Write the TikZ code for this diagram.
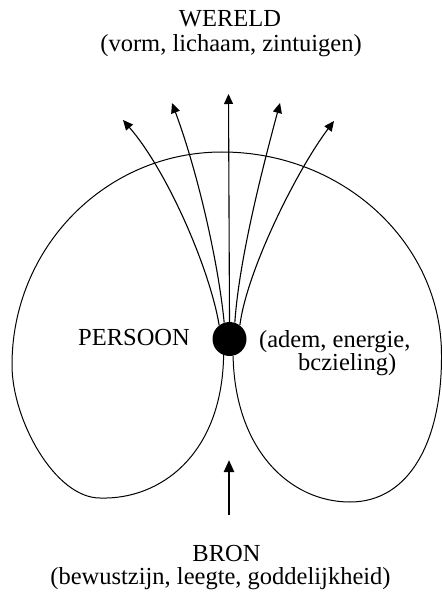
\documentclass[tikz,border=0pt]{standalone}
\usepackage{fontspec}
\setmainfont{Liberation Serif}
\usetikzlibrary{arrows.meta}
\begin{document}
\begin{tikzpicture}[x=1pt,y=-1pt,
  lbl/.style={inner sep=0pt,font=\fontsize{24.5}{26}\selectfont},
  flow/.style={line width=1.1pt,-{Triangle[length=10pt,width=9pt]}},
  outline/.style={line width=1pt}]
\useasboundingbox (0,0) rectangle (441,593);
% texts
\node[lbl,anchor=base] (w1) at (230,26.7) {WERELD};
\node[lbl,anchor=base] (w2) at (231,52) {(vorm, lichaam, zintuigen)};
\node[lbl,anchor=base] (b1) at (226.5,561.5) {BRON};
\node[lbl,anchor=base] (b2) at (220.5,584.5) {(bewustzijn, leegte, goddelijkheid)};
\node[lbl,anchor=base west] (p) at (78,345) {PERSOON};
\node[lbl,anchor=base west] (a1) at (259,347) {(adem, energie,};
\node[lbl,anchor=base west] (a2) at (298,370) {bczieling)};
% dot
\node[circle,fill,minimum size=34pt,inner sep=0pt] (dot) at (229.5,339) {};
% arrow tips
\coordinate (t1) at (123,120);
\coordinate (t2) at (172,103);
\coordinate (t3) at (228.5,94);
\coordinate (t4) at (280,103);
\coordinate (t5) at (334,121);
\draw[flow] (dot.127) .. controls (210,270) and (168,172) .. (t1);
\draw[flow] (dot.108) .. controls (218,260) and (197,170) .. (t2);
\draw[flow] (dot.north) -- (t3);
\draw[flow] (dot.72) .. controls (239,260) and (262,170) .. (t4);
\draw[flow] (dot.53) .. controls (247,270) and (297,170) .. (t5);
% outline
\coordinate (lb) at (100,498);
\coordinate (ll) at (12,365);
\coordinate (tp) at (222,152);
\coordinate (rr) at (441.5,355);
\coordinate (rb) at (350,502);
\draw[outline] (dot.250) .. controls (222,455) and (160,500) .. (lb)
  .. controls (55,498) and (12,420) .. (ll)
  .. controls (12,247) and (106,152) .. (tp)
  .. controls (343,152) and (441.5,243) .. (rr)
  .. controls (442,440) and (410,502) .. (rb)
  .. controls (290,502) and (235,450) .. (dot.282);
% bottom arrow
\coordinate (s1) at (229,515);
\coordinate (s2) at (229,460);
\draw[line width=2.3pt,-{Triangle[length=12pt,width=10pt]}] (s1) -- (s2);
\end{tikzpicture}
\end{document}
